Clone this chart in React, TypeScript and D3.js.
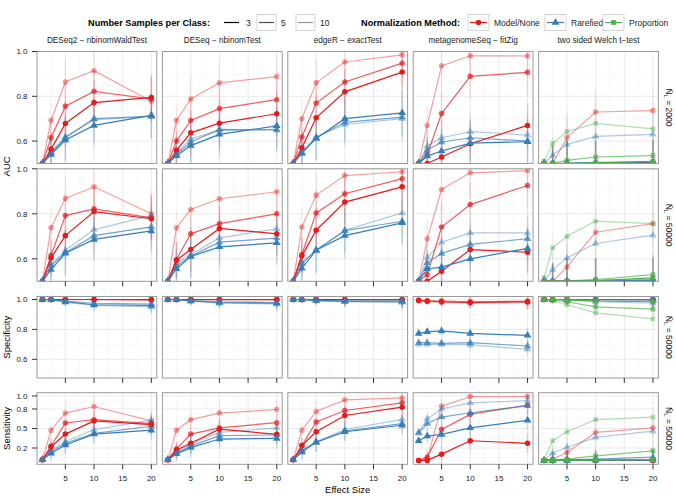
import React from "react";
import * as d3 from "d3";

// ---------- data ----------
const effectSizes = [1, 2.5, 5, 10, 20];
const methods = [
  "DESeq2 \u2212 nbinomWaldTest",
  "DESeq \u2212 nbinomTest",
  "edgeR \u2212 exactTest",
  "metagenomeSeq \u2212 fitZig",
  "two sided Welch t\u2212test",
];
const normalizations = ["Model/None", "Rarefied", "Proportion"];
const sampleSizes = [3, 5, 10];
const xTickValues = [5, 10, 15, 20];
const aucTicks = [0.6, 0.8, 1.0];
const specTicks = [0.6, 0.8, 1.0];
const sensTicks = [0.2, 0.5, 0.8, 1.0];
const stripValues = ["2000", "50000", "50000", "50000"];

// series order: Model/None 3,5,10 ; Rarefied 3,5,10 ; (Proportion 3,5,10)
const keys6: [string, number][] = [
  ["Model/None", 3], ["Model/None", 5], ["Model/None", 10],
  ["Rarefied", 3], ["Rarefied", 5], ["Rarefied", 10],
];
const keys9: [string, number][] = [
  ...keys6, ["Proportion", 3], ["Proportion", 5], ["Proportion", 10],
];

// AUC, N_L = 2000
const auc2000_DESeq2 = [
  [0.5, 0.563, 0.679, 0.772, 0.795],
  [0.5, 0.615, 0.756, 0.822, 0.788],
  [0.5, 0.693, 0.864, 0.914, 0.778],
  [0.5, 0.54, 0.605, 0.67, 0.715],
  [0.5, 0.548, 0.615, 0.70, 0.71],
  [0.5, 0.55, 0.62, 0.695, 0.712],
];
const auc2000_DESeq = [
  [0.5, 0.559, 0.637, 0.68, 0.722],
  [0.5, 0.60, 0.692, 0.745, 0.785],
  [0.5, 0.693, 0.788, 0.86, 0.888],
  [0.5, 0.535, 0.58, 0.63, 0.668],
  [0.5, 0.54, 0.596, 0.652, 0.65],
  [0.5, 0.545, 0.61, 0.648, 0.652],
];
const auc2000_edgeR = [
  [0.5, 0.57, 0.704, 0.82, 0.908],
  [0.5, 0.618, 0.77, 0.864, 0.948],
  [0.5, 0.70, 0.86, 0.953, 0.985],
  [0.5, 0.545, 0.612, 0.70, 0.726],
  [0.5, 0.548, 0.615, 0.684, 0.707],
  [0.5, 0.552, 0.618, 0.674, 0.70],
];
const auc2000_metagenomeSeq = [
  [0.5, 0.5, 0.529, 0.588, 0.67],
  [0.5, 0.54, 0.723, 0.889, 0.907],
  [0.5, 0.67, 0.936, 0.981, 0.98],
  [0.5, 0.533, 0.556, 0.591, 0.597],
  [0.5, 0.559, 0.596, 0.615, 0.60],
  [0.5, 0.578, 0.615, 0.642, 0.627],
];
const auc2000_Welch = [
  [0.5, 0.5, 0.5, 0.5, 0.502],
  [0.5, 0.5, 0.5, 0.502, 0.505],
  [0.5, 0.5, 0.616, 0.73, 0.736],
  [0.5, 0.5, 0.5, 0.502, 0.503],
  [0.5, 0.5, 0.502, 0.505, 0.506],
  [0.5, 0.537, 0.585, 0.621, 0.63],
  [0.5, 0.5, 0.5, 0.503, 0.51],
  [0.5, 0.502, 0.514, 0.529, 0.535],
  [0.51, 0.59, 0.642, 0.679, 0.655],
];

// AUC, N_L = 50000
const auc50k_DESeq2 = [
  [0.5, 0.604, 0.703, 0.81, 0.778],
  [0.5, 0.615, 0.792, 0.822, 0.782],
  [0.5, 0.738, 0.868, 0.92, 0.80],
  [0.5, 0.552, 0.625, 0.686, 0.724],
  [0.5, 0.57, 0.627, 0.703, 0.742],
  [0.5, 0.575, 0.638, 0.73, 0.792],
];
const auc50k_DESeq = [
  [0.5, 0.594, 0.641, 0.735, 0.711],
  [0.5, 0.597, 0.711, 0.756, 0.80],
  [0.5, 0.738, 0.819, 0.867, 0.898],
  [0.5, 0.556, 0.61, 0.653, 0.671],
  [0.5, 0.57, 0.612, 0.674, 0.692],
  [0.5, 0.582, 0.619, 0.693, 0.733],
];
const auc50k_edgeR = [
  [0.5, 0.612, 0.727, 0.852, 0.92],
  [0.5, 0.619, 0.804, 0.889, 0.956],
  [0.5, 0.741, 0.883, 0.97, 0.987],
  [0.5, 0.558, 0.638, 0.703, 0.76],
  [0.5, 0.578, 0.638, 0.725, 0.767],
  [0.5, 0.585, 0.638, 0.727, 0.804],
];
const auc50k_metagenomeSeq = [
  [0.5, 0.5, 0.545, 0.641, 0.629],
  [0.5, 0.53, 0.741, 0.841, 0.926],
  [0.5, 0.689, 0.908, 0.982, 0.992],
  [0.5, 0.556, 0.563, 0.60, 0.646],
  [0.5, 0.582, 0.624, 0.664, 0.689],
  [0.5, 0.607, 0.674, 0.715, 0.715],
];
const auc50k_Welch = [
  [0.5, 0.5, 0.5, 0.5, 0.502],
  [0.5, 0.5, 0.5, 0.502, 0.504],
  [0.5, 0.5, 0.564, 0.718, 0.756],
  [0.5, 0.5, 0.5, 0.502, 0.503],
  [0.5, 0.5, 0.502, 0.504, 0.507],
  [0.5, 0.552, 0.604, 0.668, 0.705],
  [0.5, 0.5, 0.5, 0.503, 0.515],
  [0.5, 0.5, 0.502, 0.508, 0.53],
  [0.516, 0.649, 0.70, 0.767, 0.756],
];

// Specificity, N_L = 50000
const spec_DESeq2 = [
  [1, 1, 1, 1, 0.999],
  [1, 1, 1, 1, 0.999],
  [1, 1, 0.999, 0.999, 0.998],
  [1, 1, 0.985, 0.965, 0.96],
  [1, 1, 0.99, 0.975, 0.97],
  [1, 0.998, 0.98, 0.96, 0.95],
];
const spec_DESeq = [
  [1, 1, 1, 1, 1],
  [1, 1, 1, 0.999, 0.999],
  [1, 1, 0.999, 0.999, 0.998],
  [1, 1, 0.99, 0.98, 0.975],
  [1, 1, 0.992, 0.985, 0.98],
  [1, 1, 0.99, 0.975, 0.97],
];
const spec_edgeR = [
  [1, 1, 1, 1, 1],
  [1, 1, 1, 1, 0.999],
  [1, 1, 1, 0.999, 0.998],
  [1, 1, 0.995, 0.99, 0.99],
  [1, 1, 0.993, 0.988, 0.985],
  [1, 1, 0.99, 0.985, 0.98],
];
const spec_metagenomeSeq = [
  [0.995, 0.99, 0.985, 0.98, 0.985],
  [0.995, 0.99, 0.99, 0.985, 0.988],
  [0.99, 0.985, 0.982, 0.975, 0.98],
  [0.773, 0.784, 0.79, 0.773, 0.76],
  [0.711, 0.711, 0.707, 0.711, 0.689],
  [0.70, 0.70, 0.70, 0.696, 0.667],
];
const spec_Welch = [
  [1, 1, 1, 1, 1],
  [1, 1, 1, 1, 1],
  [1, 1, 1, 0.999, 0.999],
  [1, 1, 1, 1, 1],
  [1, 1, 1, 0.998, 0.995],
  [1, 1, 0.995, 0.985, 0.975],
  [1, 1, 0.998, 0.99, 0.985],
  [1, 0.995, 0.985, 0.951, 0.935],
  [1, 0.99, 0.965, 0.911, 0.871],
];

// Sensitivity, N_L = 50000
const sens_DESeq2 = [
  [0.02, 0.22, 0.414, 0.616, 0.56],
  [0.02, 0.232, 0.585, 0.636, 0.575],
  [0.02, 0.474, 0.737, 0.838, 0.616],
  [0.02, 0.12, 0.247, 0.414, 0.474],
  [0.02, 0.146, 0.273, 0.424, 0.535],
  [0.02, 0.171, 0.30, 0.485, 0.626],
];
const sens_DESeq = [
  [0.02, 0.17, 0.273, 0.49, 0.41],
  [0.02, 0.186, 0.414, 0.51, 0.59],
  [0.02, 0.474, 0.636, 0.737, 0.792],
  [0.02, 0.11, 0.206, 0.338, 0.348],
  [0.02, 0.13, 0.23, 0.39, 0.40],
  [0.02, 0.16, 0.26, 0.44, 0.51],
];
const sens_edgeR = [
  [0.02, 0.237, 0.449, 0.70, 0.828],
  [0.02, 0.237, 0.60, 0.777, 0.894],
  [0.02, 0.474, 0.762, 0.94, 0.97],
  [0.02, 0.14, 0.29, 0.45, 0.55],
  [0.02, 0.16, 0.29, 0.46, 0.576],
  [0.02, 0.17, 0.30, 0.485, 0.64],
];
const sens_metagenomeSeq = [
  [0.01, 0.01, 0.106, 0.312, 0.273],
  [0.01, 0.06, 0.485, 0.717, 0.86],
  [0.01, 0.03, 0.843, 0.99, 0.99],
  [0.312, 0.383, 0.409, 0.51, 0.626],
  [0.43, 0.576, 0.676, 0.742, 0.848],
  [0.44, 0.65, 0.80, 0.894, 0.93],
];
const sens_Welch = [
  [0.01, 0.01, 0.01, 0.01, 0.01],
  [0.01, 0.01, 0.01, 0.012, 0.015],
  [0.01, 0.03, 0.13, 0.44, 0.51],
  [0.01, 0.01, 0.01, 0.012, 0.015],
  [0.01, 0.01, 0.015, 0.03, 0.06],
  [0.01, 0.125, 0.212, 0.364, 0.459],
  [0.01, 0.01, 0.012, 0.015, 0.02],
  [0.01, 0.015, 0.03, 0.08, 0.156],
  [0.02, 0.312, 0.449, 0.636, 0.676],
];

// approximate error-bar half widths per effect size
const errAUC = [0.02, 0.08, 0.1, 0.1, 0.1];
const errSpec = [0.01, 0.02, 0.03, 0.04, 0.05];
const errSens = [0.02, 0.12, 0.15, 0.15, 0.15];

// ---------- style / layout ----------
const FONT = "'Liberation Sans', Arial, Helvetica, sans-serif";
const COLORS: Record<string, string> = {
  "Model/None": "#E41A1C",
  Rarefied: "#377EB8",
  Proportion: "#4DAF4A",
};
const ALPHA: Record<number, number> = { 3: 1, 5: 0.7, 10: 0.42 };
const SHAPES: Record<string, d3.SymbolType> = {
  "Model/None": d3.symbolCircle,
  Rarefied: d3.symbolTriangle,
  Proportion: d3.symbolSquare,
};
const SHAPE_SIZE: Record<string, number> = { "Model/None": 24, Rarefied: 26, Proportion: 22 };

const LEFT0 = 37;
const PW = 119.8;
const STEP = 125.4;

const rows = [
  { label: "AUC", top: 51.5, bottom: 163.5, domain: [0.5, 1.0], ticks: aucTicks, err: errAUC, xTicks: false, xLabels: false,
    panels: [auc2000_DESeq2, auc2000_DESeq, auc2000_edgeR, auc2000_metagenomeSeq, auc2000_Welch] },
  { label: "AUC", top: 168.8, bottom: 281.3, domain: [0.5, 1.0], ticks: aucTicks, err: errAUC, xTicks: true, xLabels: false,
    panels: [auc50k_DESeq2, auc50k_DESeq, auc50k_edgeR, auc50k_metagenomeSeq, auc50k_Welch] },
  { label: "Specificity", top: 296.5, bottom: 378, domain: [0.475, 1.02], ticks: specTicks, err: errSpec, xTicks: true, xLabels: false,
    panels: [spec_DESeq2, spec_DESeq, spec_edgeR, spec_metagenomeSeq, spec_Welch] },
  { label: "Sensitivity", top: 392.7, bottom: 464.3, domain: [-0.05, 1.05], ticks: sensTicks, err: errSens, xTicks: true, xLabels: true,
    panels: [sens_DESeq2, sens_DESeq, sens_edgeR, sens_metagenomeSeq, sens_Welch] },
];

function minorBreaks(ticks: number[], domain: number[]): number[] {
  const out: number[] = [];
  const all = [...ticks];
  const step0 = all[1] - all[0];
  all.unshift(all[0] - step0);
  for (let i = 0; i < all.length - 1; i++) {
    const m = (all[i] + all[i + 1]) / 2;
    if (m >= domain[0] && m <= domain[1]) out.push(m);
  }
  return out;
}

function Panel({ row, r, c }: { row: any; r: number; c: number }) {
  const L = LEFT0 + c * STEP;
  const x = d3.scaleLinear().domain([0.05, 20.95]).range([L, L + PW]);
  const y = d3.scaleLinear().domain(row.domain).range([row.bottom, row.top]);
  const data: number[][] = row.panels[c];
  const keys = data.length === 9 ? keys9 : keys6;
  const clipId = `clip-${r}-${c}`;
  const line = d3
    .line<number>()
    .x((_, i) => x(effectSizes[i]))
    .y((d) => y(d));
  const minorY = minorBreaks(row.ticks, row.domain);
  const xMinor = [2.5, 7.5, 12.5, 17.5];
  const order = keys.map((k, i) => i).sort((a, b) => keys[b][1] - keys[a][1]);
  return (
    <g>
      <defs>
        <clipPath id={clipId}>
          <rect x={L} y={row.top} width={PW} height={row.bottom - row.top} />
        </clipPath>
      </defs>
      <rect x={L} y={row.top} width={PW} height={row.bottom - row.top} fill="#fff" />
      {minorY.map((v: number) => (
        <line key={"my" + v} x1={L} x2={L + PW} y1={y(v)} y2={y(v)} stroke="#f3f3f3" strokeWidth={0.6} />
      ))}
      {xMinor.map((v) => (
        <line key={"mx" + v} x1={x(v)} x2={x(v)} y1={row.top} y2={row.bottom} stroke="#f3f3f3" strokeWidth={0.6} />
      ))}
      {row.ticks.map((v: number) => (
        <line key={"gy" + v} x1={L} x2={L + PW} y1={y(v)} y2={y(v)} stroke="#e4e4e4" strokeWidth={0.8} />
      ))}
      {xTickValues.map((v) => (
        <line key={"gx" + v} x1={x(v)} x2={x(v)} y1={row.top} y2={row.bottom} stroke="#e4e4e4" strokeWidth={0.8} />
      ))}
      <g clipPath={`url(#${clipId})`}>
        {order.map((si) => {
          const [norm, n] = keys[si];
          const col = COLORS[norm];
          const a = ALPHA[n];
          return (
            <g key={"e" + si}>
              {data[si].map((v, i) => (
                <line
                  key={i}
                  x1={x(effectSizes[i])}
                  x2={x(effectSizes[i])}
                  y1={y(v - row.err[i])}
                  y2={y(v + row.err[i])}
                  stroke={col}
                  strokeOpacity={a * 0.2}
                  strokeWidth={1.5}
                />
              ))}
            </g>
          );
        })}
        {order.map((si) => {
          const [norm, n] = keys[si];
          const col = COLORS[norm];
          const a = ALPHA[n];
          const sym = d3.symbol().type(SHAPES[norm]).size(SHAPE_SIZE[norm])();
          return (
            <g key={"s" + si}>
              <path d={line(data[si]) || ""} fill="none" stroke={col} strokeOpacity={a} strokeWidth={1.2} />
              {data[si].map((v, i) => (
                <path
                  key={i}
                  d={sym || ""}
                  transform={`translate(${x(effectSizes[i])},${y(v)})`}
                  fill={col}
                  fillOpacity={a}
                />
              ))}
            </g>
          );
        })}
      </g>
      <rect x={L} y={row.top} width={PW} height={row.bottom - row.top} fill="none" stroke="#9a9a9a" strokeWidth={1} />
      {c === 0 &&
        row.ticks.map((v: number) => (
          <g key={"yt" + v}>
            <line x1={L - 5} x2={L} y1={y(v)} y2={y(v)} stroke="#333" strokeWidth={1} />
            <text x={L - 9.5} y={y(v)} dy="0.35em" textAnchor="end" fontSize={8} fill="#222" fontFamily={FONT}>
              {v.toFixed(1)}
            </text>
          </g>
        ))}
      {row.xTicks &&
        xTickValues.map((v) => (
          <g key={"xt" + v}>
            <line x1={x(v)} x2={x(v)} y1={row.bottom} y2={row.bottom + 5} stroke="#333" strokeWidth={1} />
            {row.xLabels && (
              <text x={x(v)} y={row.bottom + 16.5} textAnchor="middle" fontSize={8} fill="#222" fontFamily={FONT}>
                {v}
              </text>
            )}
          </g>
        ))}
    </g>
  );
}

function Legend() {
  const ky0 = 14.5;
  const kh = 16;
  const kw = 19;
  const cy = ky0 + kh / 2;
  const sampleKeys = [
    { n: sampleSizes[0], x: 222, box: false },
    { n: sampleSizes[1], x: 257, box: true },
    { n: sampleSizes[2], x: 296, box: true },
  ];
  const normKeys = [
    { k: normalizations[0], x: 468 },
    { k: normalizations[1], x: 545 },
    { k: normalizations[2], x: 603 },
  ];
  return (
    <g fontFamily={FONT}>
      <text x={88} y={cy + 3.2} fontSize={9.2} fontWeight="bold" fill="#000">
        Number Samples per Class:
      </text>
      {sampleKeys.map((s) => (
        <g key={s.n}>
          {s.box && <rect x={s.x} y={ky0} width={kw} height={kh} fill="#fff" stroke="#c8c8c8" strokeWidth={0.8} />}
          <line x1={s.x + 2} x2={s.x + kw - 2} y1={cy} y2={cy} stroke="#000" strokeOpacity={ALPHA[s.n]} strokeWidth={1.2} />
          <text x={s.x + kw + 5} y={cy + 3} fontSize={8.5} fill="#222">
            {s.n}
          </text>
        </g>
      ))}
      <text x={361} y={cy + 3.2} fontSize={9.2} fontWeight="bold" fill="#000">
        Normalization Method:
      </text>
      {normKeys.map((s) => {
        const sym = d3.symbol().type(SHAPES[s.k]).size(SHAPE_SIZE[s.k])();
        return (
          <g key={s.k}>
            <rect x={s.x} y={ky0} width={kw + 2} height={kh} fill="#fff" stroke="#c8c8c8" strokeWidth={0.8} />
            <line x1={s.x + 2} x2={s.x + kw} y1={cy} y2={cy} stroke={COLORS[s.k]} strokeWidth={1.2} />
            <path d={sym || ""} transform={`translate(${s.x + (kw + 2) / 2},${cy})`} fill={COLORS[s.k]} />
            <text x={s.x + kw + 7} y={cy + 3} fontSize={8.5} fill="#222">
              {s.k}
            </text>
          </g>
        );
      })}
    </g>
  );
}

export default function App() {
  const W = 676;
  const H = 496;
  const xCenterAll = (LEFT0 + LEFT0 + 4 * STEP + PW) / 2;
  const rightStripX = LEFT0 + 4 * STEP + PW + 7.5;
  return (
    <svg
      width={W}
      height={H}
      viewBox={`0 0 ${W} ${H}`}
      style={{ position: "absolute", left: 0, top: 0, background: "#fff" }}
      fontFamily={FONT}
    >
      <rect x={0} y={0} width={W} height={H} fill="#fff" />
      <Legend />
      {methods.map((m, c) => (
        <text key={m} x={LEFT0 + c * STEP + PW / 2} y={43} textAnchor="middle" fontSize={8.2} fill="#222">
          {m}
        </text>
      ))}
      {rows.map((row, r) =>
        methods.map((_, c) => <Panel key={r + "-" + c} row={row} r={r} c={c} />)
      )}
      {rows.map((row, r) => {
        const cy = (row.top + row.bottom) / 2;
        return (
          <text
            key={"strip" + r}
            transform={`translate(${rightStripX},${cy}) rotate(90)`}
            textAnchor="middle"
            fontSize={8.5}
            fill="#222"
          >
            {"N\u0304"}
            <tspan dy={2} fontSize={6}>L</tspan>
            <tspan dy={-2}>{" = " + stripValues[r]}</tspan>
          </text>
        );
      })}
      {/* y axis titles */}
      <text transform={`translate(10,${(rows[0].top + rows[1].bottom) / 2}) rotate(-90)`} textAnchor="middle" fontSize={9.5} fill="#000">
        {rows[0].label}
      </text>
      <text transform={`translate(10,${(rows[2].top + rows[2].bottom) / 2}) rotate(-90)`} textAnchor="middle" fontSize={9.5} fill="#000">
        {rows[2].label}
      </text>
      <text transform={`translate(10,${(rows[3].top + rows[3].bottom) / 2}) rotate(-90)`} textAnchor="middle" fontSize={9.5} fill="#000">
        {rows[3].label}
      </text>
      <text x={xCenterAll} y={493} textAnchor="middle" fontSize={9.5} fill="#000">
        Effect Size
      </text>
    </svg>
  );
}
